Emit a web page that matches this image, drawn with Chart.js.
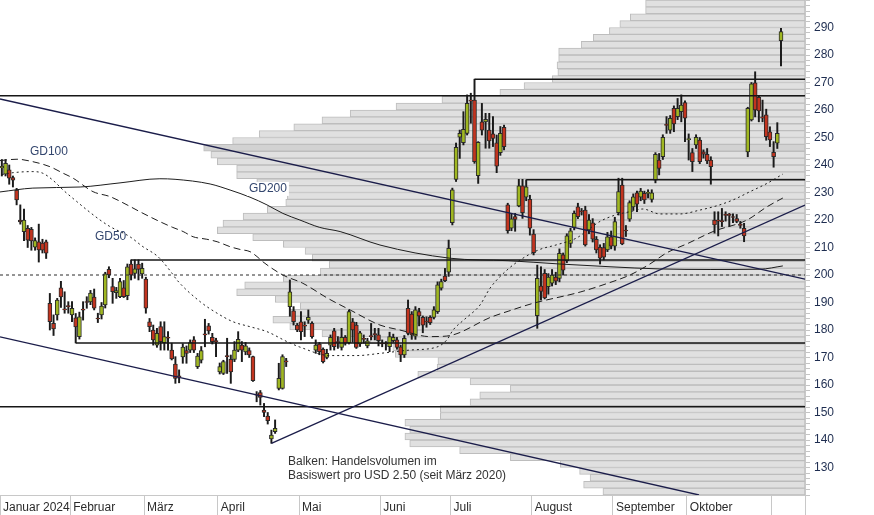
<!DOCTYPE html>
<html>
<head>
<meta charset="utf-8">
<script src="https://cdn.jsdelivr.net/npm/chart.js@4.4.1/dist/chart.umd.min.js"></script>
<style>
  html, body { margin: 0; padding: 0; background: #fff; }
  #wrap { width: 874px; height: 515px; }
</style>
</head>
<body>
<div id="wrap"><canvas id="chart" width="874" height="515"></canvas></div>
<script>
'use strict';

// x axis: trading days, month boundaries
let monthTicks = [-0.5, 18.5, 38.5, 58.5, 80.5, 102.5, 121.5, 143.5, 165.5, 185.5, 208.5, 217.5];
let monthLabels = ['Januar 2024', 'Februar', 'März', 'April', 'Mai', 'Juni', 'Juli', 'August', 'September', 'Oktober', '', ''];

// y axis labels
let priceLabels = [130, 140, 150, 160, 170, 180, 190, 200, 210, 220, 230, 240, 250, 260, 270, 280, 290];

// daily candles
let opens = [
  239.0, 236.7, 238.2, 235.4, 230.9, 220.0, 215.8, 217.0, 216.6, 210.1,
  212.1, 211.6, 212.1, 189.7, 182.4, 185.5, 195.3, 187.5, 188.7, 185.5,
  184.4, 177.6, 187.5, 190.2, 190.2, 192.0, 184.2, 185.5, 189.1, 202.1,
  195.8, 193.6, 192.1, 195.3, 192.5, 204.0, 200.6, 204.0, 200.4, 198.5,
  183.0, 180.0, 174.5, 181.2, 175.4, 177.2, 172.7, 167.6, 163.2, 170.2,
  172.5, 172.7, 176.4, 166.7, 169.0, 178.5, 181.5, 177.3, 176.0, 164.8,
  164.2, 170.5, 169.3, 169.3, 172.7, 174.5, 172.0, 172.5, 170.3, 156.5,
  157.2, 150.9, 148.7, 140.4, 143.0, 158.8, 158.8, 168.6, 188.5, 187.0,
  181.8, 183.0, 181.6, 183.6, 182.4, 172.7, 174.9, 173.0, 170.0, 174.5,
  179.7, 175.6, 173.7, 177.3, 175.4, 183.0, 181.8, 174.9, 176.8, 174.2,
  177.8, 178.5, 178.2, 175.1, 175.1, 173.9, 176.1, 176.4, 173.9, 170.9,
  187.9, 185.8, 177.8, 186.7, 184.6, 183.1, 184.6, 184.6, 186.7, 195.2,
  199.6, 201.0, 219.0, 234.8, 250.1, 248.1, 251.5, 263.6, 263.6, 236.1,
  255.7, 255.7, 252.7, 251.3, 248.1, 244.5, 253.7, 225.5, 217.0, 221.2,
  225.1, 232.4, 228.3, 227.5, 214.9, 185.2, 196.0, 200.6, 195.8, 197.0,
  199.2, 198.8, 207.3, 205.2, 211.5, 217.3, 224.8, 223.2, 223.6, 216.4,
  219.0, 213.0, 210.1, 210.0, 209.1, 213.9, 210.5, 222.7, 232.7, 216.2,
  220.3, 224.8, 229.9, 228.3, 229.7, 229.7, 227.5, 234.5, 241.8, 243.0,
  254.6, 252.7, 260.6, 257.6, 259.4, 262.7, 249.2, 244.5, 247.3, 249.1,
  244.8, 243.9, 241.8, 220.0, 219.8, 219.6, 221.9, 221.9, 221.1, 220.5,
  218.5, 217.0, 244.8, 256.4, 269.9, 264.6, 257.5, 258.2, 252.1, 244.6,
  247.9, 285.2
];
let highs = [
  242.0, 242.0, 240.0, 236.0, 231.5, 225.5, 224.0, 218.0, 217.3, 213.5,
  218.5, 213.0, 212.7, 193.3, 185.5, 191.5, 197.7, 193.9, 190.3, 190.3,
  186.0, 186.5, 190.3, 192.1, 194.4, 194.9, 186.1, 190.0, 201.0, 203.0,
  198.8, 195.5, 198.8, 198.0, 204.0, 205.5, 205.5, 205.5, 204.3, 199.2,
  184.2, 181.8, 180.6, 183.0, 183.0, 179.4, 175.2, 170.3, 165.5, 175.0,
  174.2, 176.4, 177.6, 171.5, 174.0, 183.9, 182.4, 178.8, 177.0, 168.0,
  169.0, 177.0, 170.9, 175.8, 179.4, 175.8, 175.5, 173.5, 170.5, 157.6,
  158.0, 153.3, 150.0, 143.6, 147.3, 167.9, 171.0, 169.7, 198.2, 188.5,
  182.4, 186.7, 183.0, 187.3, 183.0, 176.4, 175.5, 173.5, 173.0, 178.2,
  180.6, 177.6, 180.6, 178.0, 187.3, 184.2, 182.8, 179.5, 178.2, 177.0,
  182.4, 180.6, 180.6, 176.4, 175.8, 179.2, 178.5, 177.3, 174.5, 178.0,
  190.9, 186.7, 188.5, 187.9, 185.1, 184.8, 185.2, 188.5, 197.5, 198.5,
  202.4, 212.7, 231.6, 248.0, 252.7, 259.4, 265.5, 266.1, 271.2, 248.5,
  262.4, 258.8, 258.8, 257.6, 250.9, 254.0, 254.5, 226.1, 222.4, 222.4,
  234.8, 234.8, 234.6, 229.0, 216.5, 203.6, 203.0, 202.0, 200.5, 202.0,
  201.0, 209.5, 208.0, 215.0, 217.0, 223.3, 226.1, 224.2, 225.0, 222.0,
  220.5, 214.0, 211.0, 211.5, 215.5, 216.0, 221.0, 235.2, 235.2, 218.0,
  227.0, 229.5, 230.5, 231.5, 230.5, 231.0, 231.0, 244.5, 244.2, 251.0,
  257.6, 258.0, 261.5, 264.2, 265.5, 263.3, 251.3, 246.0, 251.0, 250.0,
  245.5, 246.0, 243.0, 223.0, 223.0, 224.2, 223.0, 222.4, 222.2, 222.0,
  219.5, 218.8, 261.0, 270.0, 273.9, 265.0, 263.6, 260.3, 253.9, 248.5,
  255.4, 289.7
];
let lows = [
  236.0, 236.0, 233.0, 232.0, 225.5, 218.5, 212.5, 210.0, 209.0, 209.0,
  204.7, 208.0, 206.0, 180.0, 178.0, 183.6, 188.2, 186.1, 186.1, 183.0,
  175.3, 176.7, 183.6, 187.9, 189.2, 187.3, 182.7, 184.0, 188.0, 199.0,
  189.7, 191.5, 191.8, 191.8, 191.0, 198.2, 198.8, 198.2, 198.8, 186.1,
  179.4, 174.5, 173.7, 172.7, 172.7, 172.7, 169.1, 160.6, 160.8, 167.9,
  167.9, 171.8, 171.8, 166.0, 168.0, 173.9, 178.5, 174.9, 170.3, 164.0,
  163.8, 164.2, 160.6, 168.5, 172.1, 168.5, 171.0, 170.0, 161.3, 153.9,
  152.7, 148.5, 145.8, 138.8, 142.4, 158.2, 158.5, 166.7, 185.0, 181.8,
  179.4, 176.4, 177.6, 182.4, 177.0, 171.5, 171.0, 168.0, 169.5, 172.7,
  172.7, 173.3, 172.7, 174.5, 174.9, 175.5, 173.3, 174.0, 175.2, 173.5,
  176.4, 176.4, 174.2, 173.9, 172.7, 172.1, 175.5, 173.0, 168.5, 170.0,
  178.2, 176.6, 176.6, 181.5, 179.0, 181.0, 182.0, 184.0, 186.0, 194.5,
  197.6, 199.5, 218.2, 234.0, 242.4, 247.3, 250.9, 255.2, 240.6, 233.3,
  250.9, 246.1, 246.1, 246.7, 237.2, 243.5, 245.5, 215.2, 216.1, 215.9,
  224.8, 220.6, 227.0, 214.5, 207.3, 180.6, 190.9, 191.3, 193.0, 196.0,
  196.5, 197.5, 200.0, 204.5, 210.0, 216.4, 220.5, 221.8, 210.5, 215.0,
  212.0, 208.0, 204.0, 205.5, 208.5, 209.5, 209.0, 221.8, 211.0, 214.0,
  219.5, 223.5, 223.0, 227.0, 226.0, 228.0, 226.5, 233.5, 236.4, 242.0,
  251.5, 251.5, 252.1, 256.5, 255.7, 248.5, 241.8, 237.6, 246.0, 240.5,
  242.5, 240.5, 233.0, 215.2, 214.2, 217.6, 219.6, 217.6, 219.0, 219.0,
  217.0, 212.1, 243.0, 256.0, 257.5, 255.7, 255.7, 249.0, 246.7, 239.2,
  246.0, 276.0
];
let closes = [
  239.5, 240.6, 235.2, 234.5, 227.3, 219.3, 220.0, 212.7, 212.4, 212.5,
  209.1, 209.0, 207.9, 183.0, 180.4, 190.9, 192.0, 187.3, 188.5, 187.9,
  181.1, 184.8, 187.2, 190.0, 193.4, 187.9, 184.0, 188.7, 200.4, 200.0,
  193.9, 194.3, 197.6, 192.1, 203.0, 200.0, 202.2, 202.0, 202.4, 187.9,
  181.2, 176.4, 178.8, 175.8, 177.6, 177.0, 169.5, 162.4, 163.0, 173.8,
  171.5, 175.4, 172.7, 170.5, 172.5, 178.2, 179.7, 175.8, 175.8, 166.7,
  168.5, 170.3, 164.8, 172.7, 176.6, 172.7, 174.2, 170.9, 161.6, 156.3,
  155.5, 150.0, 147.0, 141.8, 144.2, 162.4, 170.3, 168.4, 193.9, 183.0,
  180.0, 179.4, 181.4, 184.6, 177.6, 174.5, 172.1, 168.5, 171.5, 177.3,
  173.9, 175.4, 177.3, 175.2, 186.7, 180.0, 173.7, 179.0, 176.6, 176.1,
  177.6, 178.3, 176.1, 174.9, 174.9, 177.6, 177.3, 173.7, 170.9, 177.0,
  178.8, 178.2, 187.3, 185.1, 181.8, 182.9, 182.7, 187.3, 196.4, 197.6,
  197.9, 209.7, 231.0, 246.4, 251.5, 253.0, 262.4, 263.2, 241.2, 248.2,
  252.7, 256.6, 248.8, 249.7, 239.6, 251.5, 246.7, 216.1, 220.4, 220.2,
  232.4, 222.7, 232.1, 217.0, 208.1, 198.8, 194.0, 191.7, 199.2, 200.0,
  197.8, 207.9, 201.8, 214.2, 216.1, 222.4, 221.2, 223.0, 210.9, 220.0,
  213.0, 209.1, 206.1, 206.5, 213.9, 210.5, 219.4, 230.3, 211.3, 216.0,
  226.3, 228.4, 225.8, 230.5, 227.3, 229.9, 229.9, 243.9, 238.8, 250.1,
  254.4, 257.0, 254.9, 260.6, 261.8, 257.0, 249.6, 241.2, 250.1, 241.2,
  243.9, 241.5, 239.4, 218.2, 219.6, 219.4, 221.7, 221.7, 220.9, 219.5,
  218.0, 214.2, 260.6, 269.5, 260.0, 259.7, 257.0, 250.3, 249.1, 243.0,
  251.5, 288.5
];

// moving averages (day index, price)
let gd50Days = [0, 3, 8.4, 11.1, 13.8, 16.6, 20.3, 23.1, 26.6, 29.3, 34.7, 38.2, 42, 43.6, 46.1, 47.4, 53.7, 58.3, 62.6, 67.2, 71.8, 77.2, 80.7, 88.9, 96.2, 102.4, 110.5, 117.8, 120.5, 122.2, 125.4, 129.5, 132.2, 136.8, 141.1, 145.7, 150.3, 155.7, 159.3, 162, 166.6, 170.1, 173.6, 178.2, 183.6, 189, 193.7, 198, 202.6, 207.2, 211.5];
let gd50Vals = [236.5, 237.2, 237.6, 237.0, 234.5, 230.9, 226.7, 223.6, 220.0, 217.6, 213.9, 210.3, 207.0, 204.8, 200.6, 198.2, 190.3, 186.1, 183.0, 181.2, 179.4, 175.8, 173.8, 170.7, 170.7, 171.5, 172.7, 173.8, 176.4, 180.0, 184.0, 189.1, 195.2, 201.8, 206.1, 209.3, 211.0, 213.5, 217.0, 219.5, 222.0, 223.0, 224.0, 222.2, 222.2, 223.6, 225.2, 227.3, 230.3, 233.3, 236.7];
let gd100Days = [-0.5, 4.1, 8.4, 13.0, 16.6, 19.3, 24.7, 29.3, 33.9, 37.4, 42.8, 46.3, 49.1, 51.8, 55.5, 58.3, 61.8, 64.5, 67.2, 69.1, 70.7, 76.1, 81.5, 88.3, 94.3, 102.4, 107.8, 115.9, 120.5, 132.7, 137.3, 143.6, 156.6, 164.1, 170.1, 175.5, 180.1, 185.8, 192.6, 201.8, 207.2, 211.5];
let gd100Vals = [241.6, 242.1, 241.2, 239.4, 237.0, 235.2, 230.3, 228.5, 225.5, 223.0, 219.4, 217.3, 215.8, 213.9, 213.0, 212.1, 210.3, 209.3, 208.5, 206.7, 204.8, 200.0, 197.0, 191.5, 187.3, 181.8, 180.0, 177.6, 177.8, 184.8, 186.9, 189.6, 193.8, 197.0, 200.0, 204.0, 208.1, 211.5, 215.8, 220.0, 224.8, 228.0];
let gd200Days = [-0.5, 8.4, 21.2, 32, 42.8, 46.9, 56.4, 61.8, 67.2, 71.8, 76.1, 80.7, 86.1, 91.6, 102.4, 121.4, 137.1, 151.1, 164.7, 178.2, 191.8, 205.3, 211.5];
let gd200Vals = [230.2, 231.6, 232.0, 233.5, 235.0, 234.8, 233.1, 230.9, 228.3, 225.5, 222.4, 220.0, 217.3, 215.8, 210.9, 206.1, 205.2, 204.0, 203.0, 202.2, 202.0, 202.1, 203.3];

// horizontal support / resistance lines
let levelPrices = [271.2, 265.2, 234.6, 205.5, 175.3, 152.1];
let levelFrom = [128, -0.5, 142, 35, 20, -0.5];
let dashedLevel = 200;

// trend lines
let trendFromDay = [-0.5, -0.5, 73];
let trendFromPrice = [264.0, 177.5, 138.8];
let trendToDay = [217.5, 188.8, 217.5];
let trendToPrice = [198.5, 120.0, 225.4];

// volume profile per USD 2.50 bin (relative volume, bins from 120 upwards)
let volFrom = 120;
let volStep = 2.5;
let volValues = [
  25.1, 27.5, 26.7, 28.0, 30.4, 36.6, 42.9, 49.1, 49.7, 49.1,
  49.7, 45.3, 45.3, 41.6, 40.4, 36.6, 41.6, 48.1, 45.7, 45.6,
  50.9, 51.2, 54.0, 60.0, 64.0, 66.1, 64.0, 62.7, 65.8, 70.6,
  69.6, 64.8, 60.2, 59.1, 61.2, 62.1, 64.8, 68.6, 73.0, 72.3,
  69.8, 66.8, 64.5, 64.3, 64.3, 68.1, 70.6, 70.6, 73.0, 73.8,
  74.7, 71.1, 67.8, 63.5, 60.0, 56.5, 50.8, 45.1, 37.9, 34.9,
  31.4, 30.7, 30.8, 30.6, 30.6, 27.8, 26.3, 24.3, 23.0, 21.7,
  19.8, 19.8
];

// text labels
let maLabels = ['GD100', 'GD50', 'GD200'];
let maLabelDays = [7.6, 25.2, 66.9];
let maLabelPrices = [244.7, 213.8, 231.3];
let noteLines = ['Balken: Handelsvolumen im', 'Basiswert pro USD 2.50 (seit März 2020)'];
let noteDay = 77.5;
let notePrices = [132.0, 127.1];

let fontFamily = '"Liberation Sans", Arial, sans-serif';
Chart.defaults.font.family = fontFamily;
Chart.defaults.font.size = 12;

let upColor = '#a0b722';
let downColor = '#c2341f';

let bodyData = opens.map((o, i) => ({ x: i, y: [o, closes[i]] }));
let wickData = opens.map((o, i) => ({ x: i, y: [lows[i], highs[i]] }));
let bodyColors = opens.map((o, i) => closes[i] >= o ? upColor : downColor);

let maxVol = Math.max(...volValues);
let volData = volValues.map((v, i) => ({ x: v, y: volFrom + volStep * (i + 0.5) }));
let volColors = volValues.map(v => v === maxVol ? '#d2d2d2' : '#e0e0e0');

let yMinor = [];
for (let p = 120; p <= 300; p += 2) {
  yMinor.push(p);
}

function lineFrom(days, vals) {
  return days.map((d, i) => ({ x: d, y: vals[i] }));
}

let datasets = [];

datasets.push({
  type: 'bar',
  label: 'Volumen',
  indexAxis: 'y',
  xAxisID: 'x2',
  yAxisID: 'yv',
  data: volData,
  backgroundColor: volColors,
  borderColor: '#bdbdbd',
  borderWidth: 1,
  borderSkipped: false,
  grouped: false,
  barThickness: 6.9,
  order: 100
});

datasets.push({
  type: 'bar',
  label: 'Docht',
  data: wickData,
  backgroundColor: '#1a1a1a',
  borderWidth: 0,
  grouped: false,
  barThickness: 1.3,
  order: 50
});

datasets.push({
  type: 'bar',
  label: 'Kerze',
  data: bodyData,
  backgroundColor: bodyColors,
  borderColor: '#2a2a2a',
  borderWidth: 1,
  borderSkipped: false,
  grouped: false,
  barThickness: 4,
  minBarLength: 1,
  order: 40
});

let maDefs = [
  { days: gd50Days, vals: gd50Vals, dash: [2, 3] },
  { days: gd100Days, vals: gd100Vals, dash: [7, 4] },
  { days: gd200Days, vals: gd200Vals, dash: [] }
];
maDefs.forEach(m => {
  datasets.push({
    type: 'line',
    data: lineFrom(m.days, m.vals),
    borderColor: '#1e1e1e',
    borderWidth: 1,
    borderDash: m.dash,
    pointRadius: 0,
    fill: false,
    cubicInterpolationMode: 'monotone',
    order: 5
  });
});

for (let i = 0; i < levelPrices.length; i++) {
  datasets.push({
    type: 'line',
    data: [{ x: levelFrom[i], y: levelPrices[i] }, { x: 217.5, y: levelPrices[i] }],
    borderColor: '#161616',
    borderWidth: 1.5,
    pointRadius: 0,
    fill: false,
    order: 4
  });
}

datasets.push({
  type: 'line',
  data: [{ x: -0.5, y: dashedLevel }, { x: 217.5, y: dashedLevel }],
  borderColor: '#2a2a2a',
  borderWidth: 1,
  borderDash: [3, 3],
  pointRadius: 0,
  fill: false,
  order: 4
});

for (let i = 0; i < trendFromDay.length; i++) {
  datasets.push({
    type: 'line',
    data: [{ x: trendFromDay[i], y: trendFromPrice[i] }, { x: trendToDay[i], y: trendToPrice[i] }],
    borderColor: '#1b1d4a',
    borderWidth: 1.3,
    pointRadius: 0,
    fill: false,
    order: 3
  });
}

let textPlugin = {
  id: 'chartTexts',
  afterDatasetsDraw(chart) {
    let ctx = chart.ctx;
    let xs = chart.scales.x;
    let ys = chart.scales.y;
    ctx.save();
    ctx.font = '12px ' + fontFamily;
    ctx.textBaseline = 'middle';
    ctx.textAlign = 'left';
    for (let i = 0; i < maLabels.length; i++) {
      let px = xs.getPixelForValue(maLabelDays[i]);
      let py = ys.getPixelForValue(maLabelPrices[i]);
      if (maLabels[i] === 'GD200') {
        ctx.fillStyle = '#fff';
        ctx.fillRect(px - 2, py - 7, ctx.measureText(maLabels[i]).width + 4, 14);
      }
      ctx.fillStyle = '#33466e';
      ctx.fillText(maLabels[i], px, py);
    }
    ctx.fillStyle = '#333';
    for (let i = 0; i < noteLines.length; i++) {
      ctx.fillText(noteLines[i], xs.getPixelForValue(noteDay), ys.getPixelForValue(notePrices[i]));
    }
    ctx.restore();
  }
};

let chartObj = {
  type: 'bar',
  data: { datasets: datasets },
  options: {
    responsive: false,
    animation: false,
    events: [],
    devicePixelRatio: 1,
    layout: { padding: 0 },
    plugins: {
      legend: { display: false },
      tooltip: { enabled: false }
    },
    scales: {
      x: {
        type: 'linear',
        position: 'bottom',
        min: -0.5,
        max: 217.5,
        offset: false,
        bounds: 'data',
        afterBuildTicks: axis => { axis.ticks = monthTicks.map(v => ({ value: v })); },
        afterFit: axis => {
          axis.height = 20;
          axis.paddingLeft = 0;
          axis.paddingRight = 0;
        },
        grid: { drawOnChartArea: false, tickLength: 20, color: '#c8c8c8', offset: false },
        border: { color: '#c8c8c8' },
        ticks: {
          autoSkip: false,
          maxRotation: 0,
          align: 'start',
          labelOffset: 3,
          padding: -15,
          color: '#2b2b2b',
          callback: (v, i) => monthLabels[i]
        }
      },
      y: {
        type: 'linear',
        position: 'right',
        min: 120,
        max: 300,
        afterBuildTicks: axis => { axis.ticks = yMinor.map(v => ({ value: v })); },
        afterFit: axis => {
          axis.width = 69;
          axis.paddingTop = 0;
          axis.paddingBottom = 0;
        },
        grid: { drawOnChartArea: false, tickLength: 5, color: '#c4c4c4' },
        border: { color: '#c8c8c8' },
        ticks: {
          autoSkip: false,
          padding: 4,
          color: '#1e2d50',
          callback: v => priceLabels.includes(v) ? String(v) : ''
        }
      },
      x2: {
        type: 'linear',
        display: false,
        reverse: true,
        offset: false,
        grid: { offset: false },
        min: 0,
        max: 100
      },
      yv: {
        type: 'linear',
        display: false,
        offset: false,
        min: 120,
        max: 300
      }
    }
  },
  plugins: [textPlugin]
};

new Chart(document.getElementById('chart'), chartObj);
</script>
</body>
</html>
